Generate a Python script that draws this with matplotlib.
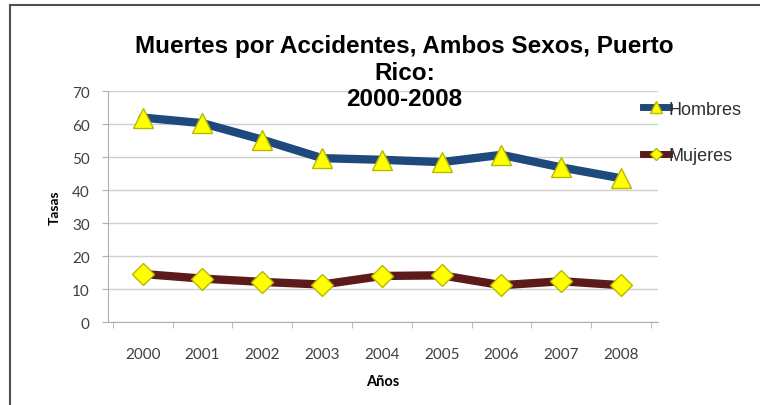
import numpy as np
import matplotlib
matplotlib.use("Agg")
import matplotlib.pyplot as plt
from matplotlib.lines import Line2D

# datos
anios = ["2000", "2001", "2002", "2003", "2004", "2005", "2006", "2007", "2008"]
hombres = [62, 60.3, 55.3, 49.7, 49.2, 48.5, 50.7, 46.9, 43.6]
mujeres = [14.6, 13.2, 12.2, 11.4, 14.0, 14.2, 11.2, 12.4, 11.2]
y_ticks = [0, 10, 20, 30, 40, 50, 60, 70]

titulo = ["Muertes por Accidentes, Ambos Sexos, Puerto", "Rico:", "2000-2008"]

fig = plt.figure(figsize=(7.6, 4.06), dpi=100)
ax = fig.add_axes([0.142, 0.204, 0.724, 0.569])

x = np.arange(len(anios))

ax.plot(x, hombres, color="#1f497d", lw=6, solid_capstyle="round",
        marker="^", markersize=15, markerfacecolor="#ffff00",
        markeredgecolor="#b8b800", markeredgewidth=1, zorder=3)
ax.plot(x, mujeres, color="#5c1a1b", lw=6, solid_capstyle="round",
        marker="D", markersize=11, markerfacecolor="#ffff00",
        markeredgecolor="#b8b800", markeredgewidth=1, zorder=3)

ax.set_xlim(-0.58, len(anios) - 0.38)
ax.set_ylim(0, 70)
ax.set_yticks(y_ticks)
ax.set_xticks(x)
ax.set_xticklabels(anios)
ax.set_xticks(np.arange(len(anios) + 1) - 0.5, minor=True)
ax.tick_params(axis="x", which="major", length=0, pad=18)
ax.tick_params(axis="x", which="minor", length=4, color="#b0b0b0")
ax.tick_params(axis="y", length=4, color="#b0b0b0", pad=9)
for lab in ax.get_xticklabels() + ax.get_yticklabels():
    lab.set_fontfamily("Lato")
    lab.set_fontsize(11)
    lab.set_color("#404040")

ax.grid(axis="y", color="#d0d0d0", lw=1)
ax.set_axisbelow(True)
for s in ["top", "right"]:
    ax.spines[s].set_visible(False)
ax.spines["left"].set_color("#b0b0b0")
ax.spines["bottom"].set_color("#b0b0b0")

ax.set_ylabel("Tasas", fontfamily="Lato", fontweight="bold", fontsize=10, labelpad=8)
ax.set_xlabel("Años", fontfamily="Lato", fontweight="bold", fontsize=10.5, labelpad=9)

# titulo en tres lineas, como en el original
for linea, yy in zip(titulo, [47, 73, 100]):
    fig.text(0.532, 1 - yy / 406, linea, ha="center", va="center",
             fontfamily="Liberation Sans", fontweight="bold", fontsize=17.5)

handles = [
    Line2D([], [], color="#1f497d", lw=5, marker="^", markersize=9,
           markerfacecolor="#ffff00", markeredgecolor="#b8b800"),
    Line2D([], [], color="#5c1a1b", lw=5, marker="D", markersize=6,
           markerfacecolor="#ffff00", markeredgecolor="#b8b800"),
]
leg = fig.legend(handles, ["Hombres", "Mujeres"], loc="upper left",
                 bbox_to_anchor=(0.825, 0.79), frameon=False,
                 handlelength=1.4, handletextpad=0.0, labelspacing=1.65,
                 prop={"family": "Liberation Sans", "size": 13})
for t in leg.get_texts():
    t.set_color("#303030")

# borde del grafico
fig.add_artist(Line2D([0.013, 0.013], [0, 0.985], color="#505050", lw=1.5))
fig.add_artist(Line2D([0.013, 1.0], [0.985, 0.985], color="#505050", lw=1.5))

fig.savefig("out.png", dpi=100)
